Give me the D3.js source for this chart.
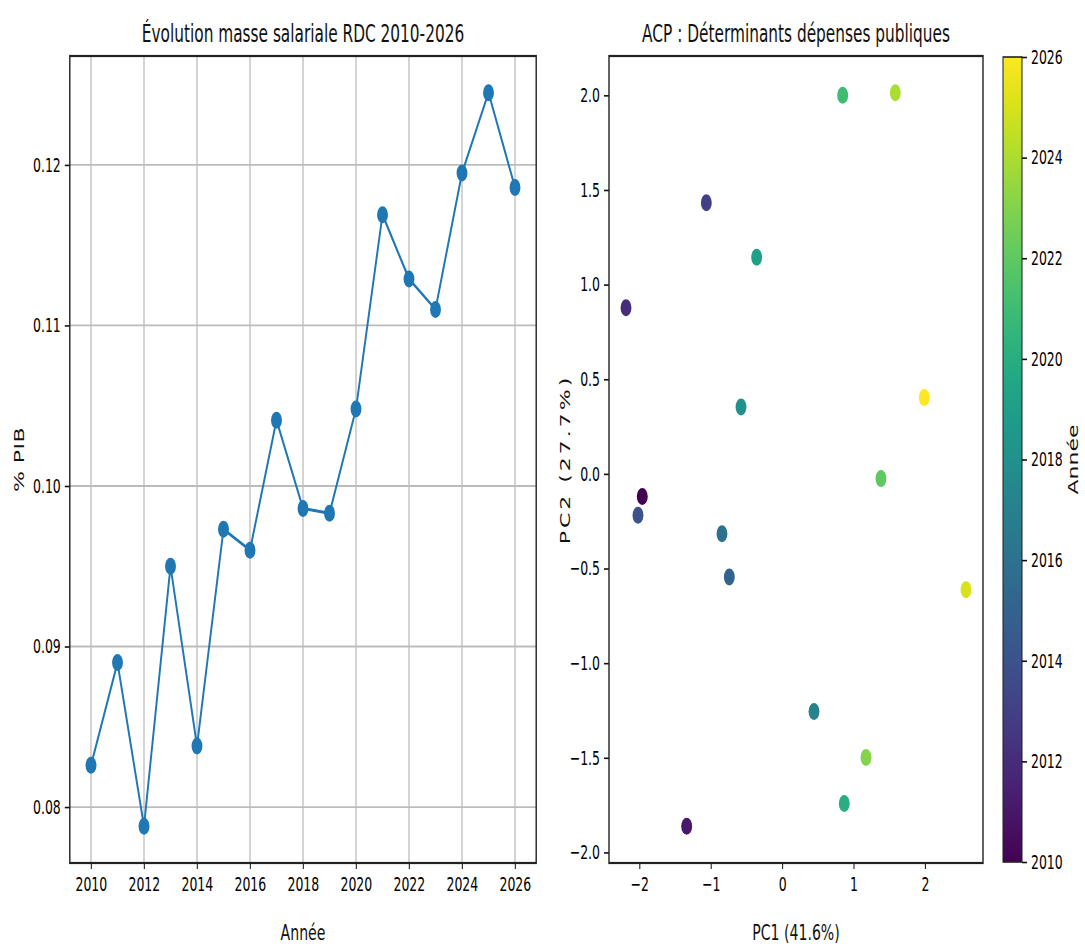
<!DOCTYPE html>
<html>
<head>
<meta charset="utf-8">
<script src="https://cdn.jsdelivr.net/npm/d3@7"></script>
<style>
body { margin: 0; background: #fff; }
svg { display: block; font-family: "DejaVu Sans", sans-serif; }
.tick text { fill: #000; }
</style>
</head>
<body>
<svg id="chart" width="1085" height="949"></svg>
<script>
// --- data ---
var years = [2010, 2011, 2012, 2013, 2014, 2015, 2016, 2017, 2018, 2019, 2020, 2021, 2022, 2023, 2024, 2025, 2026];
var masseSalariale = [0.0826, 0.0890, 0.0788, 0.0950, 0.0838, 0.0973, 0.0960, 0.1041, 0.0986, 0.0983, 0.1048, 0.1169, 0.1129, 0.1110, 0.1195, 0.1245, 0.1186];

var pc1 = [-1.961, -1.339, -2.189, -1.064, -2.021, -0.742, -0.845, 0.444, -0.578, -0.359, 0.868, 0.846, 1.382, 1.172, 1.583, 2.573, 1.989];
var pc2 = [-0.119, -1.862, 0.878, 1.433, -0.219, -0.545, -0.316, -1.255, 0.353, 1.145, -1.742, 2.000, -0.025, -1.499, 2.014, -0.612, 0.403];

var yearTicks = [2010, 2012, 2014, 2016, 2018, 2020, 2022, 2024, 2026];
var pibTicks = [0.08, 0.09, 0.10, 0.11, 0.12];
var pc1Ticks = [-2, -1, 0, 1, 2];
var pc2Ticks = [-2.0, -1.5, -1.0, -0.5, 0.0, 0.5, 1.0, 1.5, 2.0];

var titles = ["Évolution masse salariale RDC 2010-2026", "ACP : Déterminants dépenses publiques"];

// the picture is squeezed horizontally, so draw wide and squeeze the whole group
var SX = 0.64;
function ox(px) { return px / SX; }

var svg = d3.select("#chart");
var root = svg.append("g").attr("transform", "scale(" + SX + ",1)");

function padded(vals) {
    var e = d3.extent(vals), r = e[1] - e[0];
    return [e[0] - 0.05 * r, e[1] + 0.05 * r];
}

var yTop = 56, yBot = 863;
var tickFont = 19.5, labelFont = 22, titleFont = 24;

function styleAxis(g) {
    g.select(".domain").remove();
    g.selectAll(".tick line").attr("stroke", "#111").attr("stroke-width", 1.6);
    g.selectAll(".tick text").attr("font-size", tickFont).attr("font-family", "DejaVu Sans");
}

// ================= left: line chart =================
var L = { x0: ox(69.8), x1: ox(536.2) };
var xL = d3.scaleLinear().domain(padded(years)).range([L.x0, L.x1]);
var yL = d3.scaleLinear().domain(padded(masseSalariale)).range([yBot, yTop]);

var left = root.append("g");

// grid
left.append("g").selectAll("line").data(yearTicks).join("line")
    .attr("x1", function (d) { return xL(d); }).attr("x2", function (d) { return xL(d); })
    .attr("y1", yTop).attr("y2", yBot)
    .attr("stroke", "#bcbcbc").attr("stroke-width", 2);
left.append("g").selectAll("line").data(pibTicks).join("line")
    .attr("x1", L.x0).attr("x2", L.x1)
    .attr("y1", function (d) { return yL(d); }).attr("y2", function (d) { return yL(d); })
    .attr("stroke", "#bcbcbc").attr("stroke-width", 1.8);

var lineGen = d3.line()
    .x(function (d, i) { return xL(years[i]); })
    .y(function (d) { return yL(d); });

left.append("path").datum(masseSalariale)
    .attr("d", lineGen)
    .attr("fill", "none").attr("stroke", "#1f77b4").attr("stroke-width", 3);

left.append("g").selectAll("circle").data(masseSalariale).join("circle")
    .attr("cx", function (d, i) { return xL(years[i]); })
    .attr("cy", function (d) { return yL(d); })
    .attr("r", 8.5).attr("fill", "#1f77b4");

left.append("g").attr("transform", "translate(0," + yBot + ")")
    .call(d3.axisBottom(xL).tickValues(yearTicks).tickFormat(d3.format("d")).tickSize(6).tickPadding(8))
    .call(styleAxis);
left.append("g").attr("transform", "translate(" + L.x0 + ",0)")
    .call(d3.axisLeft(yL).tickValues(pibTicks).tickFormat(d3.format(".2f")).tickSize(ox(5)).tickPadding(ox(4)))
    .call(styleAxis);

left.append("rect").attr("x", L.x0).attr("y", yTop).attr("width", L.x1 - L.x0).attr("height", yBot - yTop)
    .attr("fill", "none").attr("stroke", "#222").attr("stroke-width", 2.2);

left.append("text").attr("x", (L.x0 + L.x1) / 2).attr("y", 42)
    .attr("text-anchor", "middle").attr("font-size", titleFont).attr("fill", "#111").text(titles[0]);
left.append("text").attr("x", (L.x0 + L.x1) / 2).attr("y", 940)
    .attr("text-anchor", "middle").attr("font-size", labelFont).attr("fill", "#111").text("Année");
left.append("text").attr("transform", "translate(" + ox(24) + "," + (yTop + yBot) / 2 + ") rotate(-90)")
    .attr("text-anchor", "middle").attr("font-size", labelFont).attr("letter-spacing", 0.5)
    .attr("fill", "#111").text("% PIB");

// ================= right: PCA scatter =================
var R = { x0: ox(609), x1: ox(983) };
var xR = d3.scaleLinear().domain(padded(pc1)).range([R.x0, R.x1]);
var yR = d3.scaleLinear().domain(padded(pc2)).range([yBot, yTop]);
var color = d3.scaleSequential(d3.interpolateViridis).domain([d3.min(years), d3.max(years)]);

var right = root.append("g");

right.append("g").selectAll("circle").data(years).join("circle")
    .attr("cx", function (d, i) { return xR(pc1[i]); })
    .attr("cy", function (d, i) { return yR(pc2[i]); })
    .attr("r", 8.5).attr("fill", function (d) { return color(d); });

right.append("g").attr("transform", "translate(0," + yBot + ")")
    .call(d3.axisBottom(xR).tickValues(pc1Ticks).tickFormat(d3.format("d")).tickSize(6).tickPadding(8))
    .call(styleAxis);
right.append("g").attr("transform", "translate(" + R.x0 + ",0)")
    .call(d3.axisLeft(yR).tickValues(pc2Ticks).tickFormat(d3.format(".1f")).tickSize(ox(5)).tickPadding(ox(4)))
    .call(styleAxis);

right.append("rect").attr("x", R.x0).attr("y", yTop).attr("width", R.x1 - R.x0).attr("height", yBot - yTop)
    .attr("fill", "none").attr("stroke", "#222").attr("stroke-width", 2.2);

right.append("text").attr("x", (R.x0 + R.x1) / 2).attr("y", 42)
    .attr("text-anchor", "middle").attr("font-size", titleFont).attr("fill", "#111").text(titles[1]);
right.append("text").attr("x", (R.x0 + R.x1) / 2).attr("y", 940)
    .attr("text-anchor", "middle").attr("font-size", labelFont).attr("fill", "#111").text("PC1 (41.6%)");
right.append("text").attr("transform", "translate(" + ox(570) + "," + (yTop + yBot) / 2 + ") rotate(-90)")
    .attr("text-anchor", "middle").attr("font-size", labelFont).attr("letter-spacing", 3)
    .attr("fill", "#111").text("PC2 (27.7%)");

// ================= colorbar =================
var C = { x0: ox(1003), x1: ox(1022), y0: 57, y1: 862 };
var cScale = d3.scaleLinear().domain(color.domain()).range([C.y1, C.y0]);

var grad = svg.append("defs").append("linearGradient").attr("id", "viridis")
    .attr("x1", 0).attr("y1", 1).attr("x2", 0).attr("y2", 0);
grad.selectAll("stop").data(d3.range(0, 1.0001, 0.05)).join("stop")
    .attr("offset", function (d) { return d; })
    .attr("stop-color", function (d) { return d3.interpolateViridis(d); });

root.append("rect").attr("x", C.x0).attr("y", C.y0).attr("width", C.x1 - C.x0).attr("height", C.y1 - C.y0)
    .attr("fill", "url(#viridis)").attr("stroke", "#222").attr("stroke-width", 1.6);

root.append("g").attr("transform", "translate(" + C.x1 + ",0)")
    .call(d3.axisRight(cScale).tickValues(yearTicks).tickFormat(d3.format("d")).tickSize(ox(5)).tickPadding(ox(4)))
    .call(styleAxis);

root.append("text").attr("transform", "translate(" + ox(1078) + "," + (yTop + yBot) / 2 + ") rotate(-90)")
    .attr("text-anchor", "middle").attr("font-size", labelFont).attr("fill", "#111").text("Année");
</script>
</body>
</html>
